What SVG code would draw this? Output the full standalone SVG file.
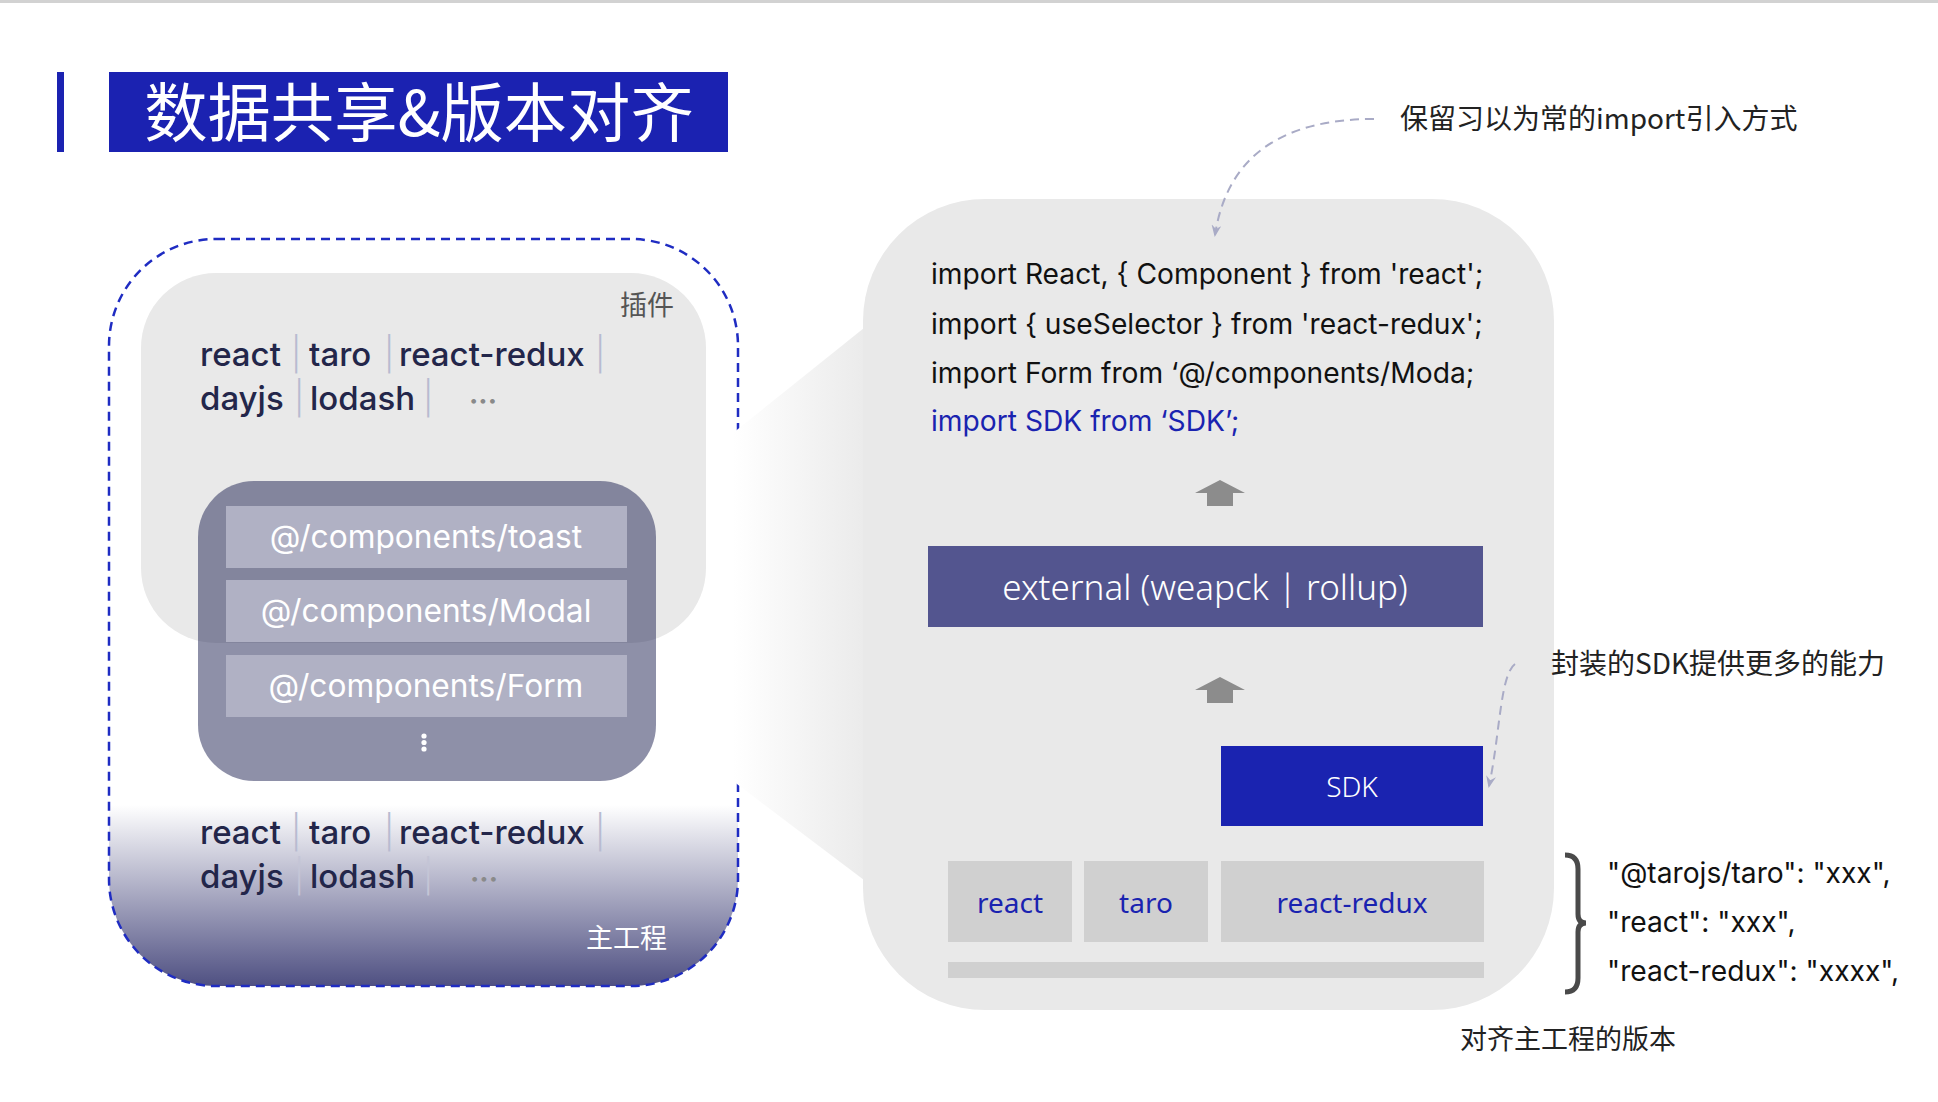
<svg xmlns="http://www.w3.org/2000/svg" width="1938" height="1102" viewBox="0 0 1938 1102">
<style>
.cjk{font-family:"Noto Sans CJK SC","Noto Sans",sans-serif}
.geo{font-family:Inter,"Noto Sans",sans-serif}
.hum{font-family:"Noto Sans","Open Sans",sans-serif}
.lib{fill:#23264a;font-size:33px;font-weight:500}
.sep{fill:#b8bbd0;font-weight:300}
.sep2{fill:#c4c5d6;font-weight:300}
.dots{fill:#8a8a8a;font-size:28px;font-weight:700}
.comp{fill:#b0b1c4}
.ctext{fill:#ffffff;font-size:31.7px;text-anchor:middle}
.code{fill:#111111;font-size:28.2px}
.ann{fill:#222222;font-size:28px}
.json{fill:#111111;font-size:28.2px}
.pkg{fill:#d0d0d0}
.pkgt{fill:#1a23b0;font-size:28px;text-anchor:middle}
.uparrow{fill:#8c8c8c}
.hint{fill:none;stroke:#a9abc6;stroke-width:2;stroke-dasharray:9 6}
</style>
<defs>
<linearGradient id="mainGrad" x1="0" y1="805" x2="0" y2="986" gradientUnits="userSpaceOnUse">
<stop offset="0" stop-color="#ffffff"/>
<stop offset="1" stop-color="#4f5082"/>
</linearGradient>
<linearGradient id="bridgeGrad" x1="0" y1="0" x2="1" y2="0">
<stop offset="0" stop-color="#ffffff"/>
<stop offset="1" stop-color="#ebebeb"/>
</linearGradient>
<marker id="hintHead" viewBox="0 0 12 10" refX="10" refY="5" markerWidth="12" markerHeight="10" markerUnits="userSpaceOnUse" orient="auto">
<path d="M0,0 L12,5 L0,10 L4,5 Z" fill="#a9abc6"/>
</marker>
</defs>

<rect x="0" y="0" width="1938" height="3" fill="#d2d2d2"/>

<g id="title">
<rect x="57" y="72" width="7" height="80" fill="#1b22b1"/>
<rect x="109" y="72" width="619" height="80" fill="#1b22b1"/>
<text class="cjk" x="419" y="136" font-size="63.3" fill="#ffffff" text-anchor="middle">数据共享&amp;版本对齐</text>
</g>

<g id="main-project">
<rect x="109" y="239" width="629" height="747" rx="107" fill="url(#mainGrad)" stroke="#1f2cc2" stroke-width="2.5" stroke-dasharray="9 6"/>
<text class="geo lib" y="844"><tspan x="200">react</tspan><tspan class="sep" x="291">|</tspan><tspan x="309">taro</tspan><tspan class="sep" x="384">|</tspan><tspan x="399">react-redux</tspan><tspan class="sep" x="595">|</tspan></text>
<text class="geo lib" y="888"><tspan x="200">dayjs</tspan><tspan class="sep2" x="294">|</tspan><tspan x="310">lodash</tspan><tspan class="sep2" x="423">|</tspan></text>
<text class="geo dots" x="470" y="889">···</text>
<text class="cjk" x="667" y="948" font-size="27" fill="#ffffff" text-anchor="end">主工程</text>
</g>

<g id="plugin">
<rect x="141" y="273" width="565" height="370" rx="75" fill="#e9e9e9"/>
<text class="cjk" x="674" y="315" font-size="27" fill="#555555" text-anchor="end">插件</text>
<text class="geo lib" y="366"><tspan x="200">react</tspan><tspan class="sep" x="291">|</tspan><tspan x="309">taro</tspan><tspan class="sep" x="384">|</tspan><tspan x="399">react-redux</tspan><tspan class="sep" x="595">|</tspan></text>
<text class="geo lib" y="410"><tspan x="200">dayjs</tspan><tspan class="sep" x="294">|</tspan><tspan x="310">lodash</tspan><tspan class="sep" x="423">|</tspan></text>
<text class="geo dots" x="469" y="411">···</text>
</g>

<g id="components">
<rect x="198" y="481" width="458" height="300" rx="56" fill="#1e2152" fill-opacity="0.5"/>
<rect class="comp" x="226" y="506" width="401" height="62"/>
<rect class="comp" x="226" y="580" width="401" height="62"/>
<rect class="comp" x="226" y="655" width="401" height="62"/>
<text class="geo ctext" x="426" y="548">@/components/toast</text>
<text class="geo ctext" x="426" y="622">@/components/Modal</text>
<text class="geo ctext" x="426" y="697">@/components/Form</text>
<circle cx="424" cy="736" r="2.6" fill="#ffffff"/>
<circle cx="424" cy="742.5" r="2.6" fill="#ffffff"/>
<circle cx="424" cy="749" r="2.6" fill="#ffffff"/>
</g>

<g id="bridge">
<polygon points="733,433 864,328 864,880 733,781" fill="url(#bridgeGrad)"/>
</g>

<g id="sdk-panel">
<rect x="863" y="199" width="691" height="811" rx="122" fill="#e9e9e9"/>
<text class="geo code" x="931" y="284">import React, { Component } from 'react';</text>
<text class="geo code" x="931" y="334">import { useSelector } from 'react-redux';</text>
<text class="geo code" x="931" y="383">import Form from ‘@/components/Moda;</text>
<text class="geo code" x="931" y="431" style="fill:#1a23b0">import SDK from ‘SDK’;</text>
</g>

<g id="external">
<rect x="928" y="546" width="555" height="81" fill="#53558f"/>
<text class="hum" x="1205" y="600" font-size="35" font-weight="300" fill="#ffffff" text-anchor="middle">external (weapck | rollup)</text>
</g>

<g id="sdk">
<rect x="1221" y="746" width="262" height="80" fill="#1a23b0"/>
<text class="hum" x="1352" y="797" font-size="28" font-weight="300" fill="#ffffff" text-anchor="middle">SDK</text>
</g>

<g id="packages">
<rect class="pkg" x="948" y="861" width="124" height="81"/>
<rect class="pkg" x="1084" y="861" width="124" height="81"/>
<rect class="pkg" x="1221" y="861" width="263" height="81"/>
<rect class="pkg" x="948" y="962" width="536" height="16"/>
<text class="hum pkgt" x="1010" y="913">react</text>
<text class="hum pkgt" x="1146" y="913">taro</text>
<text class="hum pkgt" x="1352" y="913">react-redux</text>
</g>

<g id="versions">
<path d="M1565,855 Q1578,855 1578,869 L1578,914 Q1578,923 1586,923 Q1578,923 1578,932 L1578,978 Q1578,992 1565,992" fill="none" stroke="#4a4a4a" stroke-width="5"/>
<text class="geo json" x="1607" y="883">"@tarojs/taro": "xxx",</text>
<text class="geo json" x="1607" y="932">"react": "xxx",</text>
<text class="geo json" x="1607" y="981">"react-redux": "xxxx",</text>
<text class="cjk" x="1460" y="1049" font-size="27" fill="#222222">对齐主工程的版本</text>
</g>

<g id="annotations">
<text class="cjk ann" x="1400" y="129">保留习以为常的import引入方式</text>
<text class="cjk ann" x="1551" y="674">封装的SDK提供更多的能力</text>
</g>

<g id="connectors">
<polygon class="uparrow" points="1195,493 1220,480 1245,493 1233,493 1233,506 1207,506 1207,493"/>
<polygon class="uparrow" points="1195,690 1220,677 1245,690 1233,690 1233,703 1207,703 1207,690"/>
<path class="hint" d="M1374,119 C1290,119 1228,150 1215,235" marker-end="url(#hintHead)"/>
<path class="hint" d="M1515,664 C1500,675 1500,735 1489,786" marker-end="url(#hintHead)"/>
</g>
</svg>
